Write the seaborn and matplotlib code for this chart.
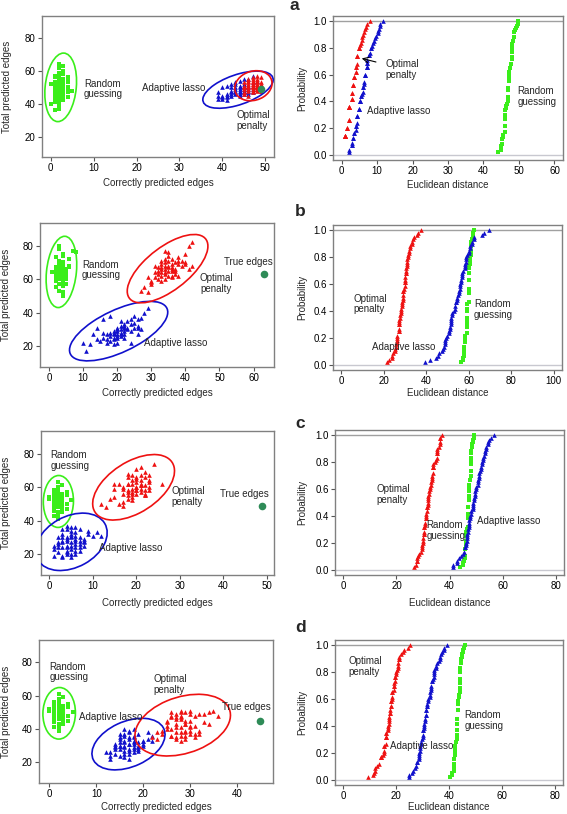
import numpy as np
import pandas as pd
import matplotlib
matplotlib.use("Agg")
import matplotlib.pyplot as plt
import seaborn as sns
from matplotlib.patches import Ellipse
from matplotlib.ticker import FormatStrFormatter

sns.set_style("white")
plt.rcParams["font.family"] = ["Liberation Sans", "DejaVu Sans"]

# ---------------- data ----------------
TRUE_EDGES = {"a": 49, "b": 63, "c": 49, "d": 45}

# panel a
A_RG_X = [2,3,1,2,4,3,2,1,3,2, 4,2,3,1,2,3,4,2,1,3, 2,3,2,4,1,2,3,2,1,3, 2,4,3,2,1,2,3,0,5,2, 3,1,2,4,3,2,3,1,2,3, 2,4,0,1,3,2,2,3,1,4]
A_RG_Y = [50,52,48,55,53,47,44,51,58,62, 50,46,54,43,49,45,56,52,41,50, 53,48,57,47,53,64,42,39,46,55, 51,44,60,48,56,37,50,52,48,54, 46,50,41,54,49,59,51,45,52,47, 49,55,40,57,53,43,50,63,36,49]
A_AL_X = [47,47,46,47,46,46,46,45,45,45, 45,46,47,46,45,44,44,44,44,44, 45,45,44,44,43,43,43,43,43,43, 42,42,42,42,42,41,41,41,41,40, 40,40,39,39,39,41,40,42,43,44, 45,47,48,47,46]
A_AL_Y = [49,48,48,47,50,49,47,49,48,47, 50,51,51,46,46,48,47,49,50,46, 51,52,51,45,48,47,49,46,50,52, 47,46,48,45,50,46,51,45,44,45, 44,50,47,43,45,42,43,52,53,54, 55,57,54,53,55]
A_OP_X = [48,48,48,49,49,49,49,48,48,48, 49,49,47,47,47,48,48,47,47,47, 47,49,48,46,46,47,47,46,48,46, 49,46,47,45,48,46,45,47,45,48, 46,45,47,45,49,46,45,47,48,46]
A_OP_Y = [49,49,49,50,50,48,48,50,50,48, 51,51,49,50,50,51,51,48,51,51, 47,52,52,49,50,52,52,51,53,48, 53,52,53,49,54,53,51,54,47,55, 54,53,55,50,56,55,46,56,57,45]

# panel b
B_RG_X = [3,4,2,5,3,4,3,2,4,5, 3,6,2,4,3,5,4,3,2,4, 3,4,5,3,2,4,3,6,4,3, 5,2,3,4,3,4,2,5,3,4, 1,3,7,4,3,2,4,5,3,4, 3,6,2,4,3,5,4,3,4,8]
B_RG_Y = [64,62,66,60,70,58,65,55,68,63, 61,72,59,66,64,57,69,62,67,60, 53,75,64,66,63,58,80,67,61,71, 65,60,62,64,68,56,73,61,65,59, 64,63,77,50,66,62,70,64,57,63, 61,68,65,62,78,66,74,60,52,76]
B_AL_X = [20,21,19,22,18,23,20,21,19,24, 17,22,20,25,14,21,19,23,16,22, 20,24,26,15,24,19,18,23,27,14, 20,22,17,25,28,19,21,13,26,26, 29,11,20,18,22,16,18,10,19,21, 25,17,20,12,27,24,22,16,26,21]
B_AL_Y = [29,30,27,32,26,31,25,28,24,33, 27,29,22,34,31,26,28,35,25,31, 27,36,32,23,22,21,28,30,37,24, 31,33,22,38,40,29,35,27,27,36, 43,17,26,23,27,28,38,22,25,32, 31,24,30,21,30,29,25,36,31,27]
B_OP_X = [34,35,33,36,32,37,34,35,33,36, 31,38,34,35,33,30,37,36,32,34, 35,33,38,39,29,31,36,34,37,40, 28,30,35,33,34,36,32,38,41,27, 35,34,33,36,37,39,32,31,30,34, 35,36,40,42,38,33,29,42,41,40]
B_OP_Y = [66,68,64,67,63,70,72,65,69,62, 61,71,60,74,66,58,65,69,67,63, 76,59,73,68,52,64,61,70,66,75, 55,57,71,67,64,65,60,62,80,53, 67,68,62,72,63,71,65,68,59,77, 62,66,70,82,69,71,61,68,66,69]

# panel c
C_RG_X = [2,1,3,2,1,2,3,1,2,4, 2,3,1,2,0,3,2,1,2,3, 2,1,4,2,3,1,2,2,3,1, 5,2,1,3,2,2,1,3,2,4, 1,2,3,2,1,2,3,0,2,1, 3,2,4,1,2,3,2,1,2,3]
C_RG_Y = [52,50,54,48,55,51,47,53,57,50, 45,52,49,60,53,56,44,51,54,48, 63,46,55,52,50,58,42,53,49,47, 52,51,56,54,48,50,43,51,55,57, 49,53,46,59,52,41,50,54,52,48, 61,55,47,53,50,45,56,51,49,53]
C_AL_X = [5,4,6,3,5,7,4,2,6,5, 3,8,4,6,1,5,7,3,4,9, 2,6,5,8,3,4,10,5,7,2, 6,4,3,11,5,8,1,6,7,4, 2,5,9,3,6,4,5,7,3,8, 2,4,6,12,5,3,7,1,4,6]
C_AL_Y = [27,25,29,24,31,28,22,26,33,20, 30,27,35,24,23,36,30,19,28,32, 21,26,34,25,32,20,31,18,35,24, 22,29,27,33,25,28,19,31,26,37, 30,23,34,18,28,24,30,22,35,29, 27,21,36,31,32,28,24,25,30,20]
C_OP_X = [19,20,18,21,17,22,19,20,18,23, 16,21,19,21,17,20,18,22,15,21, 19,23,22,14,20,18,15,22,26,13, 19,21,16,21,20,18,22,15,23,19, 21,17,20,23,18,22,17,20,19,20, 21,17,18,23,12,24,19,22,20,18]
C_OP_Y = [59,60,57,62,56,61,64,58,55,63, 50,59,52,67,60,58,62,55,54,61, 67,60,69,53,63,58,62,56,62,48, 56,64,62,72,65,53,58,59,67,62, 57,51,60,64,68,55,49,66,57,71, 61,59,66,58,50,74,54,66,56,62]

# panel d
D_RG_X = [2,1,3,2,1,2,3,1,2,4, 2,3,1,2,0,3,2,1,2,3, 2,1,4,2,3,1,2,2,3,1, 5,2,1,3,2,2,1,3,2,4, 1,2,3,2,1,2,3,0,2,1, 3,2,4,1,2,3,2,1,2,3]
D_RG_Y = [50,48,52,46,53,49,45,51,55,48, 43,50,47,58,51,54,42,49,52,46, 61,44,53,50,48,56,40,51,47,45, 50,49,54,52,46,48,41,49,53,55, 47,51,44,57,50,39,48,52,50,46, 59,53,45,51,48,43,54,49,47,51]
D_AL_X = [17,16,18,15,17,19,16,14,18,17, 15,20,16,18,13,17,19,15,16,21, 14,18,17,20,15,16,22,17,19,14, 18,16,15,21,17,20,13,18,19,16, 14,17,12,15,18,16,17,19,15,20, 14,16,18,22,17,15,19,13,16,18]
D_AL_Y = [31,30,33,28,35,32,27,29,36,25, 32,31,37,28,26,38,30,24,33,34, 25,29,39,30,35,23,36,22,37,28, 26,32,30,38,27,33,24,35,29,40, 31,28,26,34,32,25,31,27,37,33, 30,29,40,33,34,30,28,22,36,31]
D_OP_X = [28,27,29,26,28,30,27,25,29,31, 26,28,30,24,27,29,32,25,28,30, 26,33,27,29,23,31,28,26,34,30, 22,27,29,32,25,28,35,30,27,24, 31,29,26,33,28,36,30,27,29,25, 32,28,31,23,34,30,27,29,26,28]
D_OP_Y = [41,46,43,36,48,42,38,44,50,35, 40,47,37,39,34,39,49,42,51,45, 36,49,41,36,38,48,33,47,50,39, 35,49,43,37,45,50,51,41,35,37, 42,38,48,44,36,48,51,43,34,40, 39,46,37,34,43,49,47,45,50,38]

METHODS = ["Random guessing", "Adaptive lasso", "Optimal penalty"]
DATA = {
    "a": [(A_RG_X, A_RG_Y), (A_AL_X, A_AL_Y), (A_OP_X, A_OP_Y)],
    "b": [(B_RG_X, B_RG_Y), (B_AL_X, B_AL_Y), (B_OP_X, B_OP_Y)],
    "c": [(C_RG_X, C_RG_Y), (C_AL_X, C_AL_Y), (C_OP_X, C_OP_Y)],
    "d": [(D_RG_X, D_RG_Y), (D_AL_X, D_AL_Y), (D_OP_X, D_OP_Y)],
}

# ---------------- styles ----------------
COLORS = {"Random guessing": "#3aee1a", "Adaptive lasso": "#1010cc", "Optimal penalty": "#ee1111"}
MARKERS = {"Random guessing": "s", "Adaptive lasso": "^", "Optimal penalty": "^"}
SIZES = {"Random guessing": 6, "Adaptive lasso": 11, "Optimal penalty": 11}
TRUE_COLOR = "#2e8b57"
K = 3.4
FS = 7

W, H = 567, 814
fig = plt.figure(figsize=(W / 100, H / 100), dpi=100)

# layout in pixels (x0, y0, x1, y1)
LEFT_BOX = {"a": (42, 16, 274, 157), "b": (40, 223, 274, 367), "c": (41, 431, 274, 575), "d": (39, 640, 273, 783)}
RIGHT_BOX = {"a": (333, 16, 563, 160), "b": (333, 225, 562, 370), "c": (335, 430, 564, 575), "d": (335, 640, 563, 785)}
LEFT_XLIM = {"a": (-2, 52), "b": (-2.6, 66), "c": (-1.9, 51.7), "d": (-2.2, 47.7)}
LEFT_XTICKS = {"a": range(0, 51, 10), "b": range(0, 61, 10), "c": range(0, 51, 10), "d": range(0, 41, 10)}
RIGHT_XLIM = {"a": (-2.4, 62.4), "b": (-4, 104), "c": (-3.2, 83.2), "d": (-3.2, 83.2)}
RIGHT_XTICKS = {"a": range(0, 61, 10), "b": range(0, 101, 20), "c": range(0, 81, 20), "d": range(0, 81, 20)}
XLABEL_Y = {"a": (183, 185), "b": (393, 393), "c": (603, 603), "d": (807, 807)}
LETTER_Y = {"a": 6, "b": 211, "c": 423, "d": 627}

LEFT_TEXT = {
    "a": [("Random\nguessing", 7.8, 49), ("Optimal\npenalty", 43.2, 30)],
    "b": [("Random\nguessing", 9.7, 65.4), ("Optimal\npenalty", 44.3, 57.4), ("True edges", 51.3, 70), ("Adaptive lasso", 27.9, 22)],
    "c": [("Random\nguessing", 0.2, 76), ("Optimal\npenalty", 28.1, 54.2), ("True edges", 39.2, 55.8), ("Adaptive lasso", 11.5, 23.4)],
    "d": [("Random\nguessing", 0.0, 74.3), ("Optimal\npenalty", 22.2, 66.7), ("Adaptive lasso", 6.3, 47.2), ("True edges", 36.8, 53.2)],
}
RIGHT_TEXT = {
    "a": [("Optimal\npenalty", 12.3, 0.64), ("Adaptive lasso", 7.1, 0.33), ("Random\nguessing", 49.6, 0.435)],
    "b": [("Optimal\npenalty", 5.7, 0.452), ("Adaptive lasso", 14.6, 0.13), ("Random\nguessing", 62.5, 0.41)],
    "c": [("Optimal\npenalty", 12.5, 0.557), ("Random\nguessing", 31.3, 0.29), ("Adaptive lasso", 50.4, 0.36)],
    "d": [("Optimal\npenalty", 1.8, 0.84), ("Adaptive lasso", 17.8, 0.25), ("Random\nguessing", 45.9, 0.44)],
}


def add_ax(box):
    x0, y0, x1, y1 = box
    return fig.add_axes([x0 / W, 1 - y1 / H, (x1 - x0) / W, (y1 - y0) / H])


def style(ax):
    for s in ax.spines.values():
        s.set_visible(True)
        s.set_color("#808080")
        s.set_linewidth(1.0)
    ax.tick_params(axis="both", direction="out", length=3, width=0.8, color="#555555",
                   labelsize=FS, pad=1.5, left=True, bottom=True, labelcolor="black")


def labels(ax, box, xlabel, ylabel, xlab_y, ylab_x):
    x0, y0, x1, y1 = box
    ax.set_xlabel(xlabel, fontsize=FS)
    ax.xaxis.set_label_coords(0.5, (y1 - xlab_y) / (y1 - y0))
    ax.xaxis.label.set_verticalalignment("center")
    ax.set_ylabel(ylabel, fontsize=FS)
    ax.yaxis.set_label_coords((ylab_x - x0) / (x1 - x0), 0.5)
    ax.yaxis.label.set_verticalalignment("center")
    ax.yaxis.label.set_horizontalalignment("center")


for key in ["a", "b", "c", "d"]:
    n_true = TRUE_EDGES[key]
    # ---- left: scatter ----
    ax = add_ax(LEFT_BOX[key])
    for method, (xs, ys) in zip(METHODS, DATA[key]):
        xs = np.asarray(xs, float)
        ys = np.asarray(ys, float)
        df = pd.DataFrame({"x": xs, "y": ys})
        sns.scatterplot(data=df, x="x", y="y", color=COLORS[method], marker=MARKERS[method],
                        s=SIZES[method], linewidth=0, ax=ax, legend=False, zorder=3)
        cov = np.cov(xs, ys)
        vals, vecs = np.linalg.eigh(cov)
        order = vals.argsort()[::-1]
        vals, vecs = vals[order], vecs[:, order]
        ang = np.degrees(np.arctan2(vecs[1, 0], vecs[0, 0]))
        ax.add_patch(Ellipse((xs.mean(), ys.mean()), 2 * K * np.sqrt(vals[0]), 2 * K * np.sqrt(vals[1]),
                             angle=ang, fill=False, edgecolor=COLORS[method], lw=1.2, zorder=4))
    sns.scatterplot(x=[n_true], y=[n_true], color=TRUE_COLOR, s=30, linewidth=0, ax=ax, zorder=5)
    ax.set_xlim(*LEFT_XLIM[key])
    ax.set_ylim(7.5, 93.5)
    ax.set_xticks(list(LEFT_XTICKS[key]))
    ax.set_yticks([20, 40, 60, 80])
    style(ax)
    labels(ax, LEFT_BOX[key], "Correctly predicted edges", "Total predicted edges",
           XLABEL_Y[key][0], 7 if key == "a" else 6.5)
    for txt, tx, ty in LEFT_TEXT[key]:
        ax.text(tx, ty, txt, fontsize=FS, ha="left", va="center", linespacing=1.1, zorder=6)
    if key == "a":
        ax.text(36, 49.5, "Adaptive lasso", fontsize=FS, ha="right", va="center", zorder=6)

    # ---- right: ECDF of Euclidean distance to the true edges ----
    ax2 = add_ax(RIGHT_BOX[key])
    ax2.axhline(0, color="#c8c8d0", lw=1.0, zorder=1)
    ax2.axhline(1, color="#a0a0a0", lw=1.0, zorder=1)
    for method, (xs, ys) in zip(METHODS, DATA[key]):
        xs = np.asarray(xs, float)
        ys = np.asarray(ys, float)
        dist = np.hypot(xs - n_true, ys - n_true)
        prob = np.searchsorted(np.sort(dist), dist, side="right") / len(dist)
        sns.scatterplot(x=dist, y=prob, color=COLORS[method], marker=MARKERS[method],
                        s=SIZES[method], linewidth=0, ax=ax2, legend=False, zorder=3)
    ax2.set_xlim(*RIGHT_XLIM[key])
    ax2.set_ylim(-0.04, 1.04)
    ax2.set_xticks(list(RIGHT_XTICKS[key]))
    ax2.set_yticks([0, 0.2, 0.4, 0.6, 0.8, 1.0])
    ax2.yaxis.set_major_formatter(FormatStrFormatter("%.1f"))
    style(ax2)
    labels(ax2, RIGHT_BOX[key], "Euclidean distance", "Probability", XLABEL_Y[key][1], 302)
    for txt, tx, ty in RIGHT_TEXT[key]:
        ax2.text(tx, ty, txt, fontsize=FS, ha="left", va="center", linespacing=1.1, zorder=6)
    if key == "a":
        ax2.annotate("", xy=(5.7, 0.722), xytext=(9.7, 0.695),
                     arrowprops=dict(arrowstyle="->", color="black", lw=0.8, shrinkA=0, shrinkB=0))
    fig.text(289 / W if key == "a" else 295 / W, 1 - LETTER_Y[key] / H, key,
             fontsize=12.5, fontweight="bold", ha="left", va="center")

fig.savefig("out.png", dpi=100)
